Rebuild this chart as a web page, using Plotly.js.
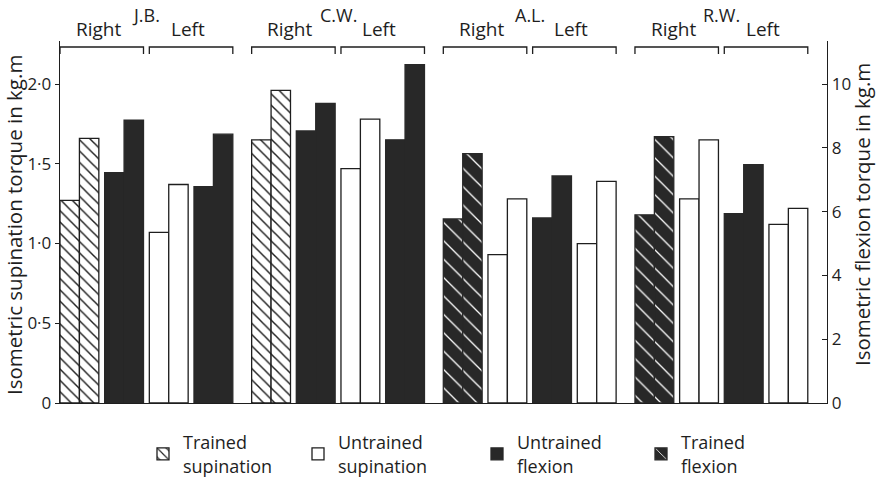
<!DOCTYPE html>
<html>
<head>
<meta charset="utf-8">
<script src="https://cdn.plot.ly/plotly-3.0.1.min.js"></script>
<style>
  html, body { margin: 0; padding: 0; background: #fff; }
  #chart { width: 882px; height: 478px; }
</style>
</head>
<body>
<div id="chart"></div>
<script>
// Subjects, arms and the task each subject trained with the right arm
const subjects = ['J.B.', 'C.W.', 'A.L.', 'R.W.'];
const sides = ['Right', 'Left'];
const trainedTask = ['supination', 'supination', 'flexion', 'flexion'];

// Isometric torques (kg.m), [first test, second test] for each subject
const supinationRight = [[1.27, 1.66], [1.65, 1.96], [0.93, 1.28], [1.28, 1.65]];
const supinationLeft  = [[1.07, 1.37], [1.47, 1.78], [1.00, 1.39], [1.12, 1.22]];
const flexionRight    = [[7.22, 8.87], [8.53, 9.39], [5.77, 7.82], [5.90, 8.35]];
const flexionLeft     = [[6.78, 8.43], [8.25, 10.61], [5.80, 7.12], [5.94, 7.47]];

// Axis ticks
const supTickVals = [0, 0.5, 1.0, 1.5, 2.0];
const supTickText = ['0', '0·5', '1·0', '1·5', '2·0'];
const flexTickVals = [0, 2, 4, 6, 8, 10];
const flexTickText = ['0', '2', '4', '6', '8', '10'];

// Legend entries
const seriesKeys = ['ts', 'us', 'uf', 'tf'];
const seriesNames = ['Trained<br>supination', 'Untrained<br>supination', 'Untrained<br>flexion', 'Trained<br>flexion'];

// ---- geometry (in bar-width units along x) ----
const W = 882, H = 478;
const M = { l: 60, r: 55, t: 41, b: 75, autoexpand: false };
const plotW = W - M.l - M.r, plotH = H - M.t - M.b;
const SUBJ = 9.87;   // distance between subjects
const PAIR = 2.3;    // distance between bar pairs
const XMAX = 39.5;
const SUP_MAX = 2.27, FLEX_MAX = SUP_MAX * 5;
const INK = '#1e1e1e', DARK = '#282828';

const pxX = v => (v - M.l) / plotW;            // page px -> paper x
const pxY = v => (H - M.b - v) / plotH;        // page px -> paper y

const series = {};
seriesKeys.forEach(k => series[k] = { x: [], y: [] });

const bracketSpans = [];   // [subject, side, x0, x1]
subjects.forEach((name, s) => {
  const supFirst = trainedTask[s] === 'supination';
  sides.forEach((side, k) => {
    const sup = k === 0 ? supinationRight[s] : supinationLeft[s];
    const flex = k === 0 ? flexionRight[s] : flexionLeft[s];
    const supKey = (k === 0 && supFirst) ? 'ts' : 'us';
    const flexKey = (k === 0 && !supFirst) ? 'tf' : 'uf';
    const pairs = supFirst ? [[supKey, sup], [flexKey, flex]] : [[flexKey, flex], [supKey, sup]];
    pairs.forEach(([key, vals], j) => {
      const p = k * 2 + j;
      vals.forEach((v, b) => {
        series[key].x.push(s * SUBJ + p * PAIR + b + 0.5);
        series[key].y.push(v);
      });
    });
    const x0 = s * SUBJ + k * 2 * PAIR;
    bracketSpans.push([s, k, x0, x0 + PAIR + 2]);
  });
});

const styles = {
  ts: { color: '#ffffff', line: INK, pattern: { shape: '\\', fgcolor: INK, bgcolor: '#ffffff', size: 8, solidity: 0.18 }, axis: 'y' },
  us: { color: '#ffffff', line: INK, pattern: null, axis: 'y' },
  uf: { color: DARK, line: DARK, pattern: null, axis: 'y2' },
  tf: { color: DARK, line: DARK, pattern: { shape: '\\', fgcolor: '#ffffff', bgcolor: DARK, size: 13, solidity: 0.1 }, axis: 'y2' }
};

const legendIds = ['legend', 'legend2', 'legend3', 'legend4'];
const traces = seriesKeys.map((key, i) => {
  const st = styles[key];
  const marker = { color: st.color, line: { color: st.line, width: 1.3 } };
  if (st.pattern) marker.pattern = st.pattern;
  return {
    type: 'bar', name: seriesNames[i],
    x: series[key].x, y: series[key].y, width: 1,
    yaxis: st.axis, marker: marker,
    legend: legendIds[i], hoverinfo: 'skip'
  };
});

const font = { family: '"Open Sans", Lato, sans-serif', color: INK };
const withSize = s => Object.assign({}, font, { size: s });
const legendLeft = [143, 298, 477, 641];
const legends = {};
legendIds.forEach((id, i) => {
  legends[id] = {
    x: pxX(legendLeft[i]), y: pxY(424), xanchor: 'left', yanchor: 'top',
    bgcolor: 'rgba(0,0,0,0)', font: withSize(18), maxheight: 300,
    itemwidth: 30, valign: 'middle', tracegroupgap: 0
  };
});

// Brackets and labels above each arm
const shapes = [];
const annotations = [];
const yTop = pxY(47), yTick = pxY(54);
bracketSpans.forEach(([s, k, x0, x1]) => {
  shapes.push({
    type: 'path', xref: 'x', yref: 'paper',
    path: `M ${x0},${yTick} L ${x0},${yTop} L ${x1},${yTop} L ${x1},${yTick}`,
    line: { color: INK, width: 1.3 }
  });
  annotations.push({
    xref: 'x', yref: 'paper', x: (x0 + x1) / 2 - 0.18, y: pxY(29),
    text: sides[k], showarrow: false, xanchor: 'center', yanchor: 'middle',
    font: withSize(19)
  });
});
subjects.forEach((name, s) => {
  const gapMid = s * SUBJ + 2 * PAIR - 0.15;
  annotations.push({
    xref: 'x', yref: 'paper', x: gapMid, y: pxY(15),
    text: name, showarrow: false, xanchor: 'center', yanchor: 'middle',
    font: withSize(18)
  });
});
// Axis titles
annotations.push({
  xref: 'paper', yref: 'paper', x: pxX(14), y: pxY(225), textangle: -90,
  text: 'Isometric supination torque in kg.m', showarrow: false,
  xanchor: 'center', yanchor: 'middle', font: withSize(20.5)
});
annotations.push({
  xref: 'paper', yref: 'paper', x: pxX(862), y: pxY(215), textangle: -90,
  text: 'Isometric flexion torque in kg.m', showarrow: false,
  xanchor: 'center', yanchor: 'middle', font: withSize(20.5)
});

const layout = Object.assign({
  width: W, height: H, margin: M,
  paper_bgcolor: '#ffffff', plot_bgcolor: '#ffffff',
  font: font, barmode: 'overlay', showlegend: true,
  xaxis: {
    range: [0, XMAX], showgrid: false, zeroline: false, showticklabels: false,
    ticks: '', showline: true, linecolor: INK, linewidth: 1.3, fixedrange: true
  },
  yaxis: {
    range: [0, SUP_MAX], tickvals: supTickVals, ticktext: supTickText,
    showgrid: false, zeroline: false, showline: true, linecolor: INK, linewidth: 1.3,
    ticks: 'outside', ticklen: 4, tickcolor: INK, tickfont: withSize(17)
  },
  yaxis2: {
    range: [0, FLEX_MAX], tickvals: flexTickVals, ticktext: flexTickText,
    overlaying: 'y', side: 'right', showgrid: false, zeroline: false,
    showline: true, linecolor: INK, linewidth: 1.3,
    ticks: 'inside', ticklen: 5, tickcolor: INK, tickfont: withSize(17)
  },
  shapes: shapes, annotations: annotations
}, legends);

Plotly.newPlot('chart', traces, layout, { staticPlot: true, displayModeBar: false });
</script>
</body>
</html>
